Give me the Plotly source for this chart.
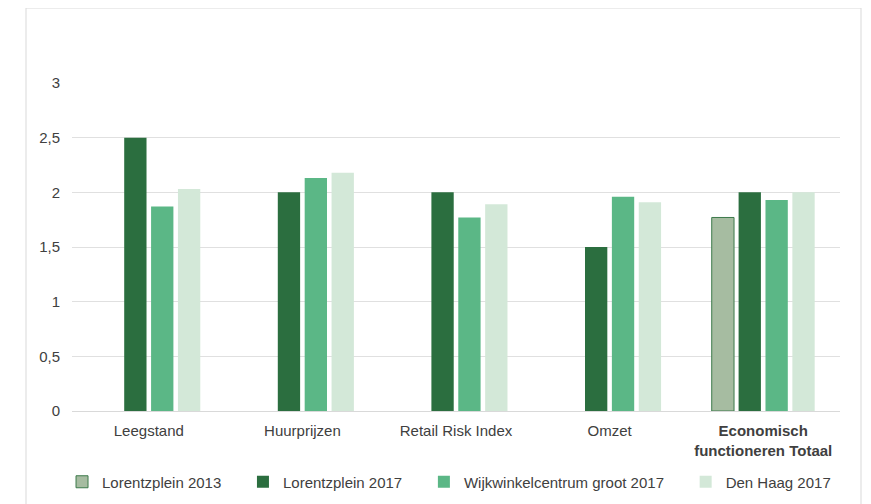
import plotly.graph_objects as go

categories = ["Leegstand", "Huurprijzen", "Retail Risk Index", "Omzet", "Economisch functioneren Totaal"]
series_names = ["Lorentzplein 2013", "Lorentzplein 2017", "Wijkwinkelcentrum groot 2017", "Den Haag 2017"]
lorentzplein_2013 = [None, None, None, None, 1.77]
lorentzplein_2017 = [2.5, 2.0, 2.0, 1.5, 2.0]
wijkwinkel_2017 = [1.87, 2.13, 1.77, 1.96, 1.93]
den_haag_2017 = [2.03, 2.18, 1.89, 1.91, 2.0]
y_ticks = [0, 0.5, 1, 1.5, 2, 2.5, 3]
y_tick_labels = ["0", "0,5", "1", "1,5", "2", "2,5", "3"]
tick_text = ["Leegstand", "Huurprijzen", "Retail Risk Index", "Omzet", "<b>Economisch<br>functioneren Totaal</b>"]

colors = ["#a6bca1", "#2b6e3f", "#5bb786", "#d3e8d8"]
line_colors = ["#3c7a4b", "#2b6e3f", "#5bb786", "#d3e8d8"]
values = [lorentzplein_2013, lorentzplein_2017, wijkwinkel_2017, den_haag_2017]

PAD = "\u00a0" * 4  # widen spacing between legend entries

fig = go.Figure()
for name, vals, c, lc in zip(series_names, values, colors, line_colors):
    fig.add_trace(go.Bar(
        x=categories, y=vals, name=name + PAD,
        marker=dict(color=c, line=dict(color=lc, width=1 if name == "Lorentzplein 2013" else 0)),
    ))

# page body has an 8px margin; figure sized to fill the rest of the window
fig.update_layout(
    width=863, height=496,
    barmode="group", bargap=0.3, bargroupgap=0.17,
    paper_bgcolor="white", plot_bgcolor="white",
    margin=dict(l=64, r=31, t=75, b=93, autoexpand=False),
    font=dict(family="Liberation Sans, Arial, sans-serif", size=15, color="#404040"),
    xaxis=dict(
        tickvals=categories, ticktext=tick_text,
        showline=True, linecolor="#d9d9d9", linewidth=1,
        showgrid=False, ticks="", ticklabelstandoff=6,
        tickfont=dict(size=15, color="#404040"),
    ),
    yaxis=dict(
        range=[0, 3], tickvals=y_ticks, ticktext=y_tick_labels,
        showgrid=True, gridcolor="#e0e0e0", gridwidth=1,
        zeroline=False, showline=False, ticks="", ticklabelstandoff=11,
        tickfont=dict(size=15, color="#404040"),
    ),
    legend=dict(
        orientation="h", x=-0.013, xanchor="left", y=-0.2165, yanchor="middle",
        font=dict(size=15, color="#404040"), itemwidth=30,
        traceorder="normal",
    ),
    showlegend=True,
    shapes=[dict(
        type="rect", xref="paper", yref="paper",
        x0=(26 - 72) / 768, x1=(861 - 72) / 768,
        y0=-0.4, y1=(411 - 8) / 328,
        line=dict(color="#d9d9d9", width=1), fillcolor="rgba(0,0,0,0)", layer="below",
    )],
)

fig.write_html("out.html")
